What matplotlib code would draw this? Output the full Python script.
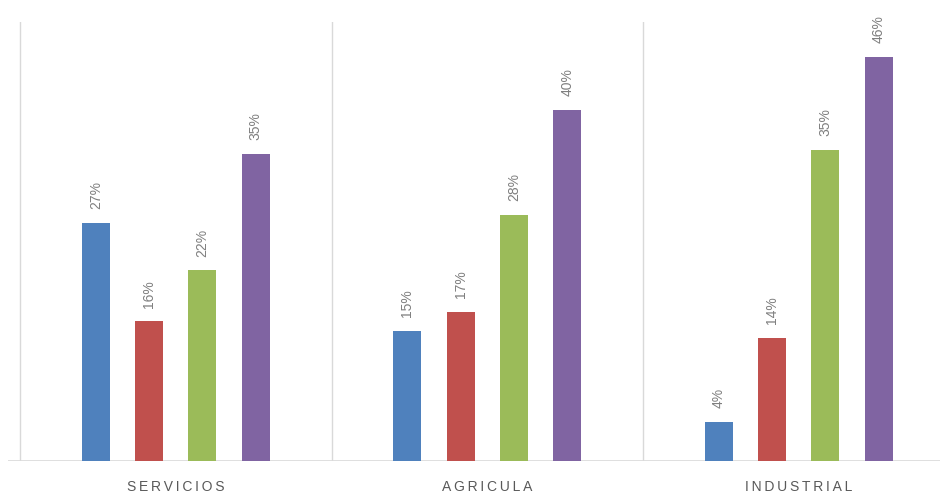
import matplotlib
matplotlib.use("Agg")
import matplotlib.pyplot as plt
import numpy as np

categories = ["SERVICIOS", "AGRICULA", "INDUSTRIAL"]
serie1 = [27.1, 14.8, 4.4]
serie2 = [15.9, 17.0, 14.0]
serie3 = [21.7, 28.0, 35.4]
serie4 = [35.0, 40.0, 46.0]
series = [serie1, serie2, serie3, serie4]
colors = ["#4F81BD", "#C0504D", "#9BBB59", "#8064A2"]

plt.rcParams['font.family'] = ['Liberation Sans', 'DejaVu Sans']

fig = plt.figure(figsize=(9.4, 4.93), dpi=100)
ax = fig.add_axes([8/940, 32/493, 932/940, 439/493])

x = np.arange(len(categories))
spacing = 0.171
width = 0.09
offsets = (np.arange(4) - 1.5) * spacing
for s, vals in enumerate(series):
    bars = ax.bar(x + offsets[s], vals, width=width, color=colors[s], zorder=3)
    for b, v in zip(bars, vals):
        ax.annotate(f"{round(v)}%", (b.get_x() + b.get_width() / 2, v),
                    xytext=(0, 10), textcoords="offset points",
                    rotation=90, ha="center", va="bottom",
                    fontsize=10, color="#7F7F7F")

ax.set_xlim(-0.5 - 12/311.5, -0.5 + 920/311.5)
ax.set_ylim(0, 50)
for b in np.arange(len(categories) + 1) - 0.5:
    ax.axvline(b, color="#D9D9D9", lw=1, zorder=1)
ax.axhline(0, color="#D9D9D9", lw=1.2, zorder=2)

for sp in ax.spines.values():
    sp.set_visible(False)
ax.set_yticks([])
ax.set_xticks(x)
ax.set_xticklabels(["\u2009".join(c) for c in categories], fontsize=10, color="#595959")
ax.tick_params(axis="x", length=0, pad=14)

fig.savefig("out.png", dpi=100)
